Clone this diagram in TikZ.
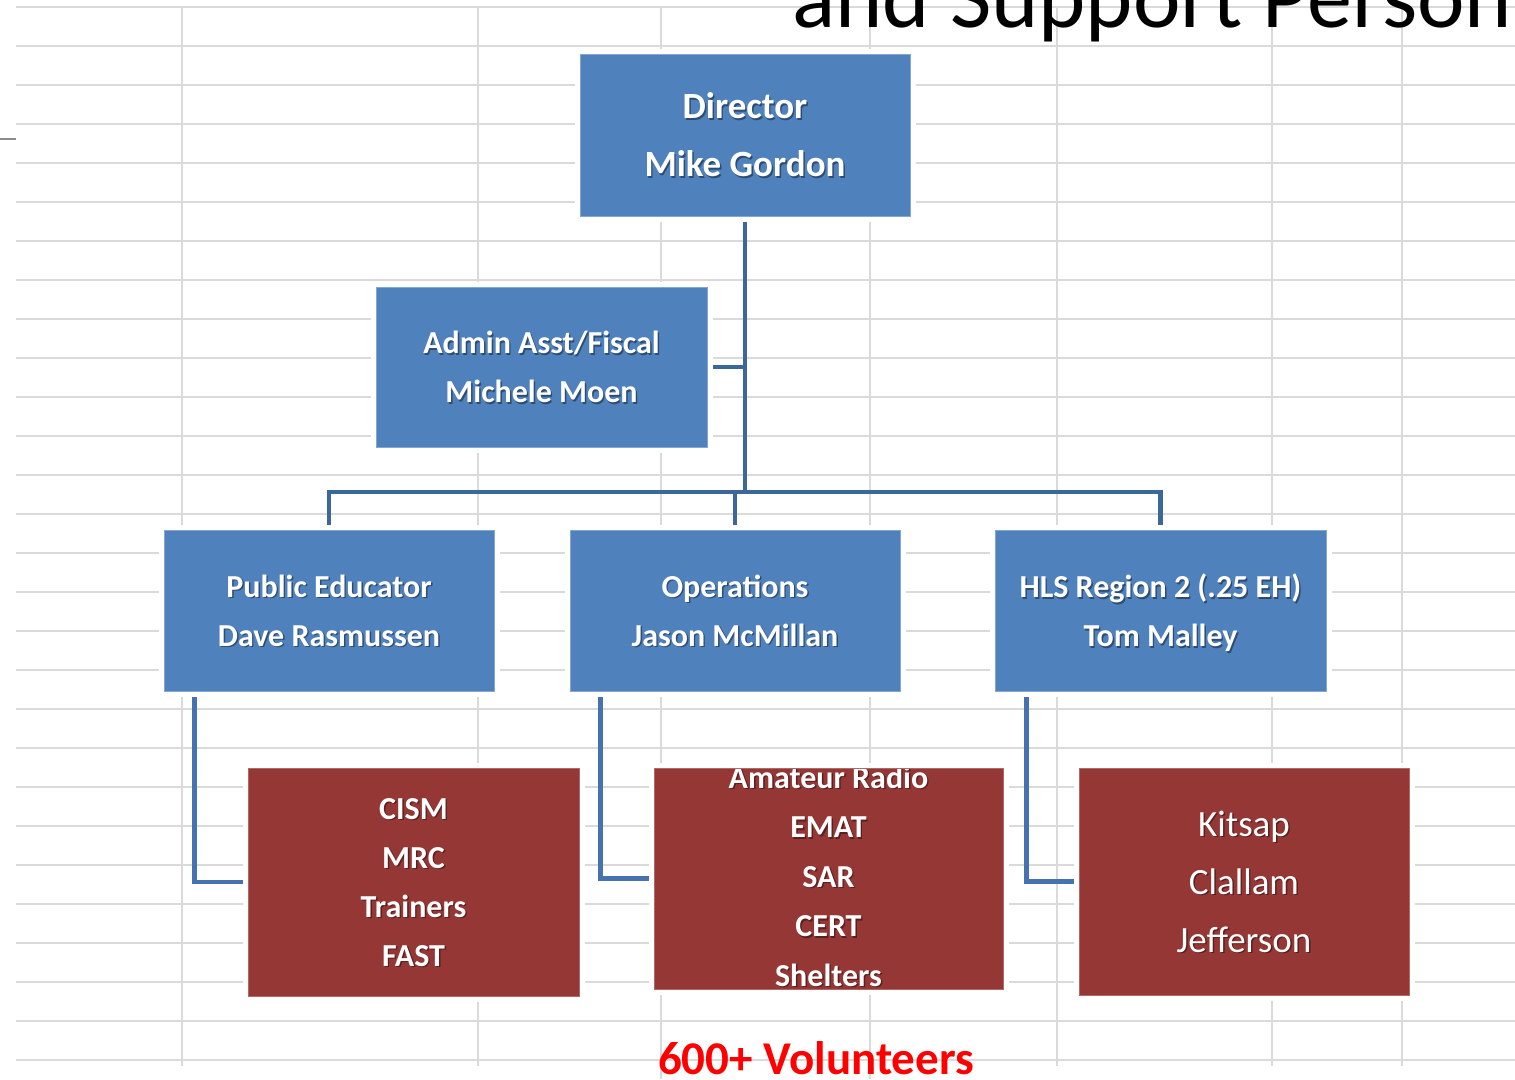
\documentclass[tikz,border=0pt]{standalone}
\usepackage{fontspec}
\setmainfont{Carlito}
\usetikzlibrary{calc}
\definecolor{gridc}{HTML}{DADADA}
\definecolor{boxblue}{HTML}{4F81BD}
\definecolor{boxred}{HTML}{953735}
\definecolor{connA}{HTML}{3B6799}
\definecolor{connB}{HTML}{4673B0}
\definecolor{bshadow}{HTML}{2E4C72}
\definecolor{rshadow}{HTML}{5A1F1E}
\definecolor{volred}{HTML}{FF0000}
\definecolor{shc}{HTML}{2E4C72}
\pgfdeclarelayer{gridlayer}
\pgfdeclarelayer{connlayer}
\pgfsetlayers{gridlayer,connlayer,main}
\newcommand\shtx[1]{\leavevmode\rlap{\kern1.4pt\raisebox{-1.4pt}{\textcolor{shc}{#1}}}#1}
\tikzset{
  gridline/.style={draw=gridc, line width=1.6pt},
  halo/.style={preaction={draw=white, line width=11pt}},
  boxbase/.style={halo, line width=1pt, text=white, align=center, inner sep=0pt, text depth=0pt},
  bluebox/.style={boxbase, fill=boxblue, draw=boxblue!70!white,
     font=\colorlet{shc}{bshadow}\bfseries\fontsize{32}{49}\selectfont},
  redbox/.style={boxbase, fill=boxred, draw=boxred!75!white,
     font=\colorlet{shc}{rshadow}\bfseries\fontsize{32}{49}\selectfont},
  redtext/.style={text=white, align=center, inner sep=0pt,
     font=\colorlet{shc}{rshadow}\bfseries\fontsize{32}{49.5}\selectfont},
  connA/.style={draw=connA, line width=4.2pt},
  connB/.style={draw=connB, line width=4.2pt},
}
\begin{document}
\begin{tikzpicture}[x=1pt,y=-1pt]
\useasboundingbox (0,0) rectangle (1515,1079);
\begin{pgfonlayer}{gridlayer}
  \fill[white] (0,0) rectangle (1515,1079);
  \foreach \yy in {7,46,...,1060} \draw[gridline] (16,\yy) -- (1515,\yy);
  \foreach \xx in {182,478,1057,1272,1402} \draw[gridline] (\xx,7) -- (\xx,1066);
  \foreach \xx in {661,870} \draw[gridline] (\xx,7) -- (\xx,1079);
  \draw[draw=black!45, line width=1.5pt] (0,139) -- (16,139);
\end{pgfonlayer}

\node[anchor=base west, inner sep=0pt, font=\fontsize{90}{90}\selectfont] (title) at (792,27) {and Support Person};

\node[bluebox, minimum width=330pt, minimum height=162pt,
      font=\colorlet{shc}{bshadow}\bfseries\fontsize{37}{58}\selectfont] (dir) at (745,135)
      {\shtx{Director}\\\shtx{Mike Gordon}};
\node[bluebox, minimum width=331pt, minimum height=160pt] (adm) at (541.5,367)
      {\shtx{Admin Asst/Fiscal}\\\shtx{Michele Moen}};
\node[bluebox, minimum width=330pt, minimum height=161pt] (pub) at (329,610.5)
      {\shtx{Public Educator}\\\shtx{Dave Rasmussen}};
\node[bluebox, minimum width=330pt, minimum height=161pt] (ops) at (735,610.5)
      {\shtx{Operations}\\\shtx{Jason McMillan}};
\node[bluebox, minimum width=331pt, minimum height=161pt] (hls) at (1160.5,610.5)
      {\shtx{HLS Region 2 (.25 EH)}\\\shtx{Tom Malley}};

\node[redbox, minimum width=331pt, minimum height=228pt] (cism) at (413.5,882)
      {\shtx{CISM}\\\shtx{MRC}\\\shtx{Trainers}\\\shtx{FAST}};
\node[redbox, minimum width=349pt, minimum height=221pt,
      path picture={\node[redtext] (hamtxt) at ([yshift=2.5pt]path picture bounding box.center)
        {\shtx{Amateur Radio}\\\shtx{EMAT}\\\shtx{SAR}\\\shtx{CERT}\\\shtx{Shelters}};}] (ham) at (828.5,878.5) {};
\node[redbox, minimum width=330pt, minimum height=227pt,
      font=\colorlet{shc}{rshadow}\fontsize{37}{58}\selectfont] (kit) at (1244,881.5)
      {\shtx{Kitsap}\\\shtx{Clallam}\\\shtx{Jefferson}};

\coordinate (bus) at (745,492);
\begin{pgfonlayer}{connlayer}
  \draw[connA] (dir.south) -- (bus);
  \draw[connA] (adm.east) -- (adm.east -| bus);
  \draw[connA] (pub.north) -- (pub.north |- bus) -- (hls.north |- bus) -- (hls.north);
  \draw[connA] (ops.north) -- (ops.north |- bus);
  \draw[connB] ([xshift=31pt]pub.south west) |- (cism.west);
  \draw[connB] ([xshift=31pt]ops.south west) |- (ham.west);
  \draw[connB] ([xshift=32pt]hls.south west) |- (kit.west);
\end{pgfonlayer}

\node[anchor=base, inner sep=0pt, text=volred, font=\bfseries\fontsize{47}{47}\selectfont] (vol) at (816,1074) {600+ Volunteers};
\end{tikzpicture}
\end{document}
